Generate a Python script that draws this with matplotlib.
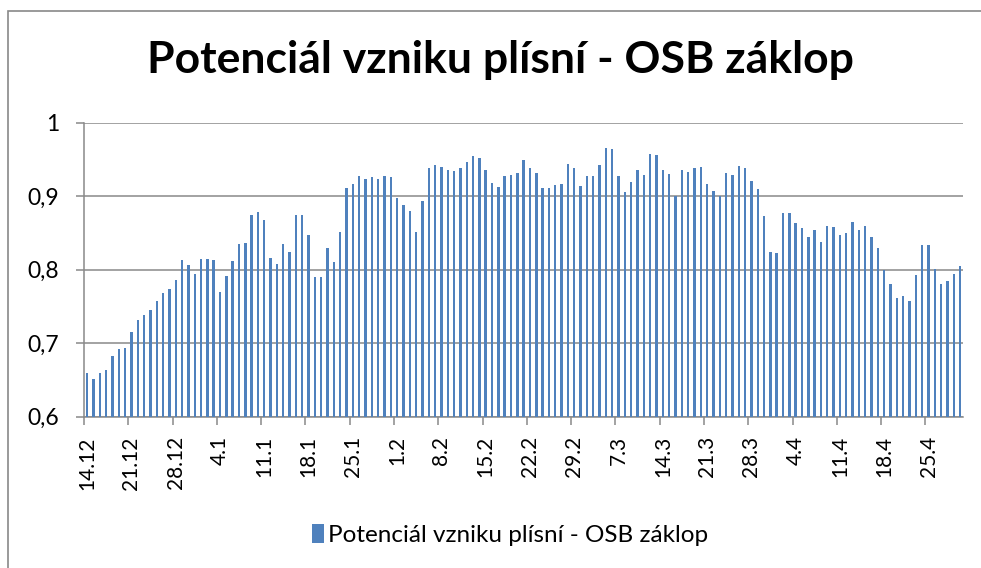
import numpy as np
import pandas as pd
import matplotlib
matplotlib.use("Agg")
import matplotlib.pyplot as plt
from matplotlib.patches import Rectangle

plt.rcParams['font.family'] = ['Lato', 'DejaVu Sans']

title = "Potenciál vzniku plísní - OSB záklop"

# daily values 14.12.2019 - 30.4.2020
dates = pd.date_range("2019-12-14", "2020-04-30", freq="D")
values = [
    0.660, 0.651, 0.659, 0.664, 0.682, 0.692, 0.693, 0.715, 0.731, 0.739,
    0.745, 0.758, 0.768, 0.774, 0.786, 0.813, 0.807, 0.794, 0.814, 0.815,
    0.813, 0.770, 0.791, 0.812, 0.835, 0.836, 0.874, 0.878, 0.867, 0.816,
    0.808, 0.835, 0.824, 0.874, 0.874, 0.847, 0.790, 0.790, 0.830, 0.810,
    0.851, 0.911, 0.916, 0.928, 0.923, 0.926, 0.924, 0.927, 0.926, 0.898,
    0.888, 0.880, 0.851, 0.893, 0.938, 0.942, 0.940, 0.935, 0.934, 0.938,
    0.947, 0.955, 0.952, 0.936, 0.918, 0.912, 0.927, 0.929, 0.932, 0.949,
    0.938, 0.931, 0.911, 0.911, 0.915, 0.916, 0.944, 0.939, 0.914, 0.927,
    0.928, 0.943, 0.966, 0.964, 0.928, 0.906, 0.919, 0.935, 0.929, 0.957,
    0.956, 0.935, 0.930, 0.900, 0.936, 0.933, 0.938, 0.940, 0.917, 0.907,
    0.900, 0.932, 0.929, 0.941, 0.938, 0.920, 0.910, 0.873, 0.824, 0.823,
    0.877, 0.877, 0.864, 0.857, 0.845, 0.854, 0.838, 0.859, 0.858, 0.847,
    0.850, 0.865, 0.854, 0.859, 0.844, 0.829, 0.799, 0.780, 0.762, 0.764,
    0.757, 0.793, 0.834, 0.834, 0.801, 0.780, 0.784, 0.794, 0.805,
]
labels = [f"{d.day}.{d.month}" for d in dates]

W, H = 981, 568
fig = plt.figure(figsize=(W / 100, H / 100), dpi=100, facecolor="white")
ax = fig.add_axes([84 / W, 1 - 416.7 / H, (963.3 - 84) / W, (416.7 - 122.7) / H])

grey = "#898989"
x = np.arange(len(values))
ax.bar(x, np.array(values) - 0.6, bottom=0.6, width=0.38, color="#4F81BD",
       label=title, zorder=3)

ax.set_xlim(-0.5, len(values) - 0.5)
ax.set_ylim(0.6, 1.0)
ax.set_yticks([0.6, 0.7, 0.8, 0.9, 1.0])
ax.set_yticklabels(["0,6", "0,7", "0,8", "0,9", "1"])
ax.yaxis.grid(True, color=grey, linewidth=1.1, zorder=0)

# labels every 7 days, tick marks on the slot boundaries
ax.set_xticks(x[::7])
ax.set_xticklabels(labels[::7], rotation=90)
ax.set_xticks(x[::7] - 0.5, minor=True)
ax.tick_params(axis="x", which="major", length=0, pad=14, labelsize=15)
ax.tick_params(axis="x", which="minor", length=5.5, width=1.1, color=grey)
ax.tick_params(axis="y", length=5.8, width=1.1, color=grey, pad=12, labelsize=16.5)

for s in ["top", "right"]:
    ax.spines[s].set_visible(False)
for s in ["left", "bottom"]:
    ax.spines[s].set_color(grey)
    ax.spines[s].set_linewidth(1.1)

fig.text(500 / W, 1 - 60 / H, title, ha="center", va="center",
         fontsize=32, fontweight="bold")

fig.legend(loc="center", bbox_to_anchor=(510 / W, 1 - 535 / H), frameon=False,
           fontsize=17.5, handlelength=0.5, handleheight=0.8, handletextpad=0.15)

# chart area border
fig.patches.append(Rectangle((8.3 / W, -0.2), 1.2, 1.2 - 10.7 / H,
                             transform=fig.transFigure, fill=False,
                             edgecolor=grey, linewidth=1.2))

fig.savefig("out.png", dpi=100)
